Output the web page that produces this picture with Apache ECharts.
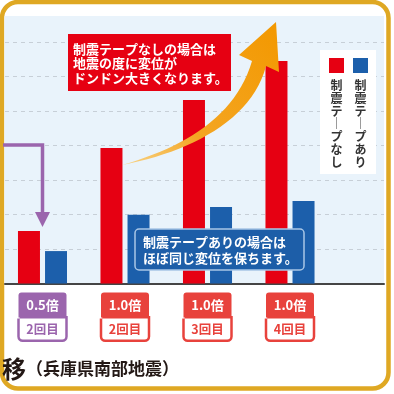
<!DOCTYPE html>
<html><head><meta charset="utf-8">
<script src="https://cdn.jsdelivr.net/npm/echarts@6/dist/echarts.min.js"></script>
<style>html,body{margin:0;padding:0;background:#fff}#c{width:394px;height:394px}</style>
</head><body><div id="c"></div>
<script>
// ---- data ----
const categories = ['0.5倍', '1.0倍', '1.0倍', '1.0倍'];
const rounds = ['2回目', '2回目', '3回目', '4回目'];
const seriesNames = ['制震テープなし', '制震テープあり'];
const withoutTape = [1.52, 3.93, 5.32, 6.45];
const withTape = [0.94, 1.99, 2.22, 2.39];
const yMin = 0, yMax = 7, yStep = 1;

const FONT = '"Noto Sans CJK JP", "Noto Sans CJK SC", sans-serif';
const RED = '#e60012', BLUE = '#1c5fab', PURPLE = '#9b65ad', BADGE_RED = '#e8423c';
const GOLD = '#dfa823';

const chart = echarts.init(document.getElementById('c'));

function vertical(s) { return s.split('').map(ch => ch === 'ー' ? '│' : ch).join('\n'); }
function cubic(p0, p1, p2, p3, n) {
  const pts = [];
  for (let i = 0; i <= n; i++) {
    const t = i / n, u = 1 - t;
    pts.push([u*u*u*p0[0] + 3*u*u*t*p1[0] + 3*u*t*t*p2[0] + t*t*t*p3[0],
              u*u*u*p0[1] + 3*u*u*t*p1[1] + 3*u*t*t*p2[1] + t*t*t*p3[1]]);
  }
  return pts;
}
const arrowPts = [].concat(
  cubic([122, 165], [185, 147], [236, 116], [252, 61], 24),
  [[239, 55], [276, 22], [279, 72]],
  cubic([266, 66], [252, 120], [190, 152], [122, 165], 24)
);

function badgeRich(c) {
  return [
    { backgroundColor: c, color: '#fff', width: 48, height: 25, lineHeight: 25, align: 'center', fontSize: 13, fontWeight: 'bold', borderRadius: [3, 3, 0, 0], fontFamily: FONT },
    { backgroundColor: '#fff', color: c, width: 45.5, height: 21, lineHeight: 23, align: 'center', fontSize: 12.5, fontWeight: 'bold', borderColor: c, borderWidth: 2.5, borderRadius: [0, 0, 3, 3], fontFamily: FONT }
  ];
}
const [tp, bp] = badgeRich(PURPLE);
const [tr, br] = badgeRich(BADGE_RED);

const option = {
  animation: false,
  textStyle: { fontFamily: FONT },
  grid: [
    { left: 5, right: 10, top: 42, bottom: 110.5 },
    { left: 1.25, right: 62.75, top: 42, bottom: 110.5 }
  ],
  xAxis: [
    { gridIndex: 0, type: 'value', min: 0, max: 1, axisLabel: { show: false }, axisTick: { show: false },
      splitLine: { show: false }, axisLine: { show: true, lineStyle: { color: '#454545', width: 2 } } },
    { gridIndex: 1, type: 'category', data: categories, axisLine: { show: false }, axisTick: { show: false },
      axisLabel: {
        margin: 9, interval: 0,
        formatter: (v, i) => { const k = i === 0 ? 'p' : 'r'; return `{t${k}|${v}}\n{b${k}|${rounds[i]}}`; },
        rich: { tp, bp, tr, br }
      } }
  ],
  yAxis: [
    { gridIndex: 0, type: 'value', min: yMin, max: yMax, interval: yStep, axisLabel: { show: false },
      axisLine: { show: false }, axisTick: { show: false },
      splitLine: { show: true, lineStyle: { color: '#c7cfd7', width: 1, type: [4, 4] } } },
    { gridIndex: 1, type: 'value', min: yMin, max: yMax, interval: yStep, show: false, splitLine: { show: false } }
  ],
  series: [
    { name: seriesNames[0], type: 'bar', xAxisIndex: 1, yAxisIndex: 1, data: withoutTape, barWidth: 22, barGap: '23%', itemStyle: { color: RED } },
    { name: seriesNames[1], type: 'bar', xAxisIndex: 1, yAxisIndex: 1, data: withTape, barWidth: 22, barGap: '23%', itemStyle: { color: BLUE } }
  ],
  graphic: { elements: [
    { type: 'rect', z: -20, shape: { x: 2, y: 2, width: 386.5, height: 386.5, r: 16 }, style: { fill: '#fff', stroke: GOLD, lineWidth: 4.5 } },
    { type: 'rect', z: -10, shape: { x: 4.5, y: 16, width: 379.5, height: 267.5 }, style: { fill: '#e9f3fb' } },
    // purple arrow
    { type: 'polyline', z: 10, shape: { points: [[3, 145], [42.5, 145], [42.5, 214]] }, style: { stroke: PURPLE, lineWidth: 3.5, fill: null } },
    { type: 'polygon', z: 10, shape: { points: [[35, 212], [50, 212], [42.5, 227]] }, style: { fill: PURPLE } },
    // orange arrow
    { type: 'polygon', z: 10, shape: { points: arrowPts },
      style: { fill: new echarts.graphic.LinearGradient(0, 1, 1, 0, [{ offset: 0, color: '#f8d58a' }, { offset: 0.35, color: '#f4a623' }, { offset: 1, color: '#f39800' }]) } },
    // red callout
    { type: 'rect', z: 10, shape: { x: 68, y: 34, width: 163, height: 57 }, style: { fill: RED } },
    { type: 'text', z: 11, style: { x: 73, y: 41.5, text: '制震テープなしの場合は\n地震の度に変位が\nドンドン大きくなります。', fill: '#fff', fontSize: 13, fontWeight: 'bold', fontFamily: FONT, lineHeight: 14.5, textAlign: 'left', textVerticalAlign: 'top' } },
    // blue callout
    { type: 'rect', z: 10, shape: { x: 135, y: 229, width: 169, height: 41, r: 4 }, style: { fill: '#1d5ea8', stroke: '#a8c6e6', lineWidth: 1.5 } },
    { type: 'text', z: 11, style: { x: 143, y: 234, text: '制震テープありの場合は\nほぼ同じ変位を保ちます。', fill: '#fff', fontSize: 13, fontWeight: 'bold', fontFamily: FONT, lineHeight: 16, textAlign: 'left', textVerticalAlign: 'top' } },
    // legend
    { type: 'rect', z: 10, shape: { x: 320, y: 50, width: 56, height: 124 }, style: { fill: '#fff' } },
    { type: 'rect', z: 11, shape: { x: 329, y: 58, width: 15, height: 15 }, style: { fill: RED } },
    { type: 'rect', z: 11, shape: { x: 353, y: 58, width: 15, height: 15 }, style: { fill: BLUE } },
    { type: 'text', z: 11, style: { x: 336.5, y: 79, text: vertical(seriesNames[0]), fill: '#333', fontSize: 12, fontWeight: 'bold', fontFamily: FONT, lineHeight: 12.8, textAlign: 'center', textVerticalAlign: 'top' } },
    { type: 'text', z: 11, style: { x: 360.5, y: 79, text: vertical(seriesNames[1]), fill: '#333', fontSize: 12, fontWeight: 'bold', fontFamily: FONT, lineHeight: 12.8, textAlign: 'center', textVerticalAlign: 'top' } },
    // bottom title (cropped)
    { type: 'text', z: 11, style: { x: 2, y: 369, text: '{a|移}{b|（兵庫県南部地震）}', textAlign: 'left', textVerticalAlign: 'middle',
      rich: { a: { fontSize: 24, fontWeight: 'bold', fill: '#231815', fontFamily: FONT }, b: { fontSize: 17, fontWeight: 'bold', fill: '#231815', fontFamily: FONT } } } }
  ] }
};
chart.setOption(option);
</script>
</body></html>
